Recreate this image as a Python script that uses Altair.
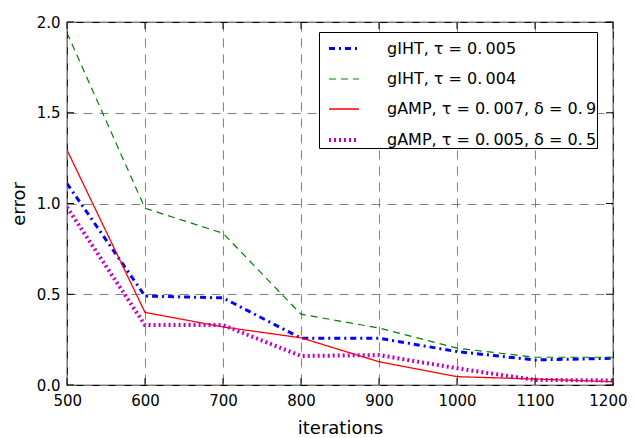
import altair as alt
import pandas as pd

iterations = [500, 600, 700, 800, 900, 1000, 1100, 1200]
giht_tau005 = [1.11, 0.49, 0.48, 0.258, 0.258, 0.184, 0.138, 0.147]
giht_tau004 = [1.94, 0.974, 0.836, 0.39, 0.314, 0.203, 0.153, 0.153]
gamp_tau007 = [1.295, 0.40, 0.32, 0.26, 0.128, 0.046, 0.033, 0.018]
gamp_tau005 = [0.98, 0.33, 0.33, 0.16, 0.165, 0.092, 0.028, 0.025]

series_names = [
    "gIHT, τ = 0.\u2009005\u00a0\u00a0",
    "gIHT, τ = 0.\u2009004\u00a0\u00a0",
    "gAMP, τ = 0.\u2009007, δ = 0.\u20099\u00a0\u00a0",
    "gAMP, τ = 0.\u2009005, δ = 0.\u20095\u00a0\u00a0",
]
series_values = [giht_tau005, giht_tau004, gamp_tau007, gamp_tau005]
colors = ["#0000ff", "#008000", "#ff0000", "#bf00bf"]
dashes = [[6, 4, 2, 4], [7, 5], [1, 0], [2, 3]]
widths = [3, 1.2, 1.3, 4]

x_ticks = [500, 600, 700, 800, 900, 1000, 1100, 1200]
y_ticks = [0.0, 0.5, 1.0, 1.5, 2.0]

rows = []
for name, vals in zip(series_names, series_values):
    for it, v in zip(iterations, vals):
        rows.append({"iterations": it, "error": v, "series": name})
df = pd.DataFrame(rows)

W, H = 546, 363

xscale = alt.Scale(domain=[500, 1200], nice=False, zero=False)
yscale = alt.Scale(domain=[0, 2], nice=False)

legend = alt.Legend(
    orient="none", legendX=252, legendY=10, title=None,
    symbolType="stroke", symbolSize=900, symbolOffset=8,
    labelFont="DejaVu Sans", labelFontSize=16, labelColor="black",
    labelOffset=26, labelLimit=400,
    strokeColor="black", fillColor="white", padding=0, rowPadding=6,
    cornerRadius=0,
)

lines = alt.Chart(df).mark_line(strokeCap="butt", clip=True).encode(
    x=alt.X("iterations:Q", scale=xscale,
            axis=alt.Axis(values=x_ticks, title="iterations", format="d",
                          labelFlush=True, labelFlushOffset=14)),
    y=alt.Y("error:Q", scale=yscale,
            axis=alt.Axis(values=y_ticks, title="error", format=".1f", labelFlush=False)),
    color=alt.Color("series:N", scale=alt.Scale(domain=series_names, range=colors), legend=legend),
    strokeDash=alt.StrokeDash("series:N", scale=alt.Scale(domain=series_names, range=dashes), legend=legend),
    strokeWidth=alt.StrokeWidth("series:N", scale=alt.Scale(type="ordinal", domain=series_names, range=widths), legend=legend),
    order=alt.Order("iterations:Q"),
)

xt = pd.DataFrame({"t": x_ticks})
yt = pd.DataFrame({"t": y_ticks})
tick_color = "black"
TL = 7
xb = alt.Chart(xt).mark_rule(color=tick_color, strokeWidth=1).encode(
    x=alt.X("t:Q", scale=xscale), y=alt.value(H), y2=alt.value(H - TL))
xtp = alt.Chart(xt).mark_rule(color=tick_color, strokeWidth=1).encode(
    x=alt.X("t:Q", scale=xscale), y=alt.value(0), y2=alt.value(TL))
yl = alt.Chart(yt).mark_rule(color=tick_color, strokeWidth=1).encode(
    y=alt.Y("t:Q", scale=yscale), x=alt.value(0), x2=alt.value(TL))
yr = alt.Chart(yt).mark_rule(color=tick_color, strokeWidth=1).encode(
    y=alt.Y("t:Q", scale=yscale), x=alt.value(W), x2=alt.value(W - TL))

chart = alt.layer(lines, xb, xtp, yl, yr).properties(
    width=W, height=H,
    autosize=alt.AutoSizeParams(type="none"),
    padding={"left": 59, "top": 14, "right": 15, "bottom": 58},
    background="white",
).configure_view(
    stroke="black", strokeWidth=1.2,
).configure_axis(
    grid=True, gridColor="#808080", gridDash=[9, 7], gridWidth=1,
    ticks=False, domain=False, labelOverlap=False,
    labelFont="DejaVu Sans", labelFontSize=15, labelColor="black",
    titleFont="DejaVu Sans", titleFontSize=18, titleFontWeight="normal", titleColor="black",
).configure_axisX(
    labelPadding=8, titlePadding=11,
).configure_axisY(
    labelPadding=7, titlePadding=8,
)

chart.save("out.html", embed_options={"renderer": "svg", "actions": False})
